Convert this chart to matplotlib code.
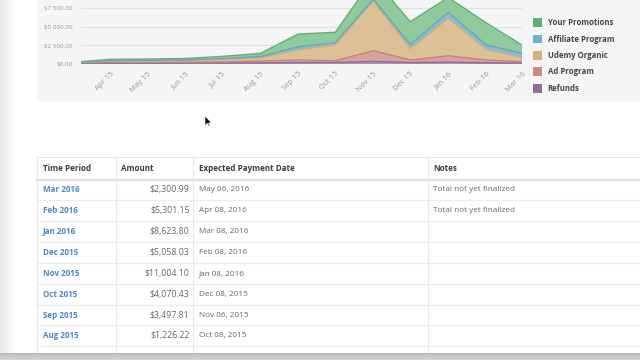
import numpy as np
import pandas as pd
import matplotlib
matplotlib.use("Agg")
from matplotlib import pyplot as plt
import matplotlib.dates as mdates
from matplotlib.patches import Rectangle, Polygon
from matplotlib.ticker import FuncFormatter

plt.rcParams['font.family'] = ['Open Sans', 'DejaVu Sans']

# chart data (USD per month)
dates = pd.to_datetime(['2015-03-08', '2015-04-01', '2015-05-01', '2015-06-01',
                        '2015-07-01', '2015-08-01', '2015-09-01', '2015-10-01',
                        '2015-11-01', '2015-12-01', '2016-01-01', '2016-02-01',
                        '2016-03-01'])
refunds = [80, 100, 110, 120, 130, 150, 200, 220, 350, 200, 250, 170, 120]
ad_program = [70, 100, 110, 120, 150, 250, 340, 220, 1430, 340, 850, 370, 190]
udemy_organic = [50, 200, 210, 240, 350, 400, 1360, 2110, 6620, 1510, 5020, 1430, 560]
affiliate = [30, 50, 60, 60, 90, 180, 420, 300, 300, 550, 780, 575, 560]
promotions = [80, 180, 180, 200, 300, 450, 1700, 1390, 2800, 3070, 2000, 2955, 1115]

series_names = ['Refunds', 'Ad Program', 'Udemy Organic', 'Affiliate Program', 'Your Promotions']
fills = ['#a990b4', '#d9a29f', '#dcc196', '#86bcd3', '#90c99c']
edges = ['#8c6e9b', '#c98080', '#cfae78', '#64a7c6', '#66b079']
swatch = ['#8e6f9a', '#c98a86', '#d4b07a', '#6fb0cc', '#5fb074']

# table data
periods = ['Mar 2016', 'Feb 2016', 'Jan 2016', 'Dec 2015', 'Nov 2015',
           'Oct 2015', 'Sep 2015', 'Aug 2015']
amounts = ['$2,300.99', '$5,301.15', '$8,623.80', '$5,058.03', '$11,004.10',
           '$4,070.43', '$3,497.81', '$1,226.22']
pay_dates = ['May 06, 2016', 'Apr 08, 2016', 'Mar 08, 2016', 'Feb 08, 2016',
             'Jan 08, 2016', 'Dec 08, 2015', 'Nov 06, 2015', 'Oct 08, 2015']
notes = ['Total not yet finalized', 'Total not yet finalized', '', '', '', '', '', '']
headers = ['Time Period', 'Amount', 'Expected Payment Date', 'Notes']

fig = plt.figure(figsize=(6.4, 3.6), dpi=100)
fig.patch.set_facecolor('white')

# page background, pixel coordinates
bg = fig.add_axes([0, 0, 1, 1])
bg.set_xlim(0, 640)
bg.set_ylim(360, 0)
bg.axis('off')

# left shadow
grad = np.linspace(0, 1, 64).reshape(1, -1)
bg.imshow(grad, cmap=matplotlib.colors.LinearSegmentedColormap.from_list('s', ['#e9e9e9', '#ffffff']),
          extent=[0, 16, 353, 0], aspect='auto', zorder=0)
# chart panel
bg.add_patch(Rectangle((37, 0), 603, 101, facecolor='#f5f5f5', edgecolor='none', zorder=1))

# table
col_x = [37, 116, 193, 428]
row_h = 20.85
head_line = 179.5
bg.plot([37, 640], [157, 157], color='#e6e6e6', lw=0.8, zorder=2)
bg.plot([37, 640], [head_line, head_line], color='#dddddd', lw=1.6, zorder=2)
for i in range(len(periods)):
    yl = head_line + row_h * (i + 1)
    bg.plot([37, 640], [yl, yl], color='#ececec', lw=0.8, zorder=2)
for cx in col_x:
    bg.plot([cx, cx], [157, 353], color='#e8e8e8', lw=0.8, zorder=2)

head_x = [43, 121, 199, 433]
for hx, h in zip(head_x, headers):
    bg.text(hx, 168.5, h, fontsize=5.8, fontweight='bold', color='#3a3a3a',
            ha='left', va='center', zorder=3)
for i, (p, a, d, n) in enumerate(zip(periods, amounts, pay_dates, notes)):
    yc = head_line + row_h * (i + 0.5)
    bg.text(43, yc, p, fontsize=5.8, fontweight='bold', color='#4a86c0',
            ha='left', va='center', zorder=3)
    bg.text(189.5, yc, a, fontsize=6.3, color='#666666', ha='right', va='center', zorder=3)
    bg.text(199, yc, d, fontsize=5.9, color='#666666', ha='left', va='center', zorder=3)
    if n:
        bg.text(433, yc, n, fontsize=5.9, color='#666666', ha='left', va='center', zorder=3)

# bottom bar
bar = np.linspace(0, 1, 16).reshape(-1, 1)
bg.imshow(bar, cmap=matplotlib.colors.LinearSegmentedColormap.from_list('b', ['#b9b9b9', '#d6d6d6']),
          extent=[0, 640, 360, 353], aspect='auto', zorder=4)

# mouse pointer
bg.add_patch(Polygon([[205, 116], [205, 125.5], [207.3, 123.3], [209, 126.5],
                      [210, 126], [208.6, 123], [211.5, 122.8]],
                     closed=True, facecolor='#111111', edgecolor='white', lw=0.4, zorder=5))
bg.set_xlim(0, 640)
bg.set_ylim(360, 0)

# stacked area chart, top runs past the figure edge
ax = fig.add_axes([81 / 640, (360 - 64) / 360, 441 / 640, 89.6 / 360])
ax.set_facecolor('none')
layers = [refunds, ad_program, udemy_organic, affiliate, promotions]
base = np.zeros(len(dates))
for vals, fc, ec in zip(layers, fills, edges):
    top = base + np.array(vals)
    ax.fill_between(dates, base, top, facecolor=fc, edgecolor='none', zorder=2)
    ax.plot(dates, top, color=ec, lw=1.0, zorder=3)
    base = top

ax.set_xlim(dates[0], dates[-1])
ax.set_ylim(0, 12000)
ax.set_yticks([0, 2500, 5000, 7500])
ax.yaxis.set_major_formatter(FuncFormatter(lambda v, p: '$' + f'{v:,.2f}'.replace(',', ' ')))
ax.set_xticks(dates[1:])
ax.xaxis.set_major_formatter(mdates.DateFormatter('%b %y'))
ax.tick_params(axis='y', length=0, labelsize=4.5, colors='#999999', pad=6)
ax.tick_params(axis='x', length=0, labelsize=5.6, colors='#999999', pad=4.5)
for lab in ax.get_xticklabels():
    lab.set_rotation(45)
    lab.set_ha('right')
    lab.set_rotation_mode('anchor')
ax.grid(axis='y', color='#e2e2e2', lw=0.8, zorder=0)
for s in ax.spines.values():
    s.set_visible(False)

# legend
leg_y = [22.7, 39, 55.3, 71.7, 88.3]
for yy, name, col in zip(leg_y, series_names[::-1], swatch[::-1]):
    bg.add_patch(Rectangle((533, yy - 4.3), 9, 8.6, facecolor=col, edgecolor='none', zorder=3))
    bg.text(547.5, yy, name, fontsize=5.6, fontweight='bold', color='#444444',
            ha='left', va='center', zorder=3)

fig.savefig('out.png', dpi=100)
